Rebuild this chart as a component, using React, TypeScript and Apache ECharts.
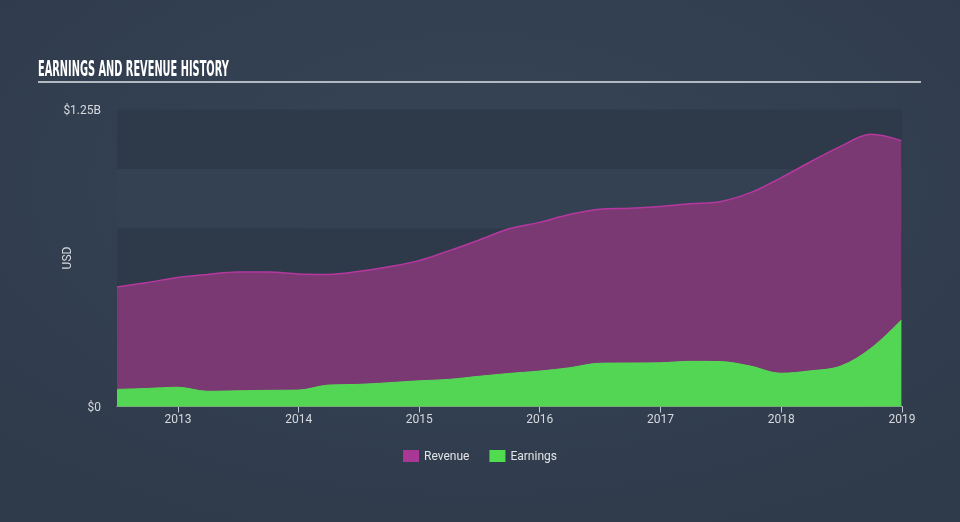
import React, { useEffect, useRef } from "react";
import * as echarts from "echarts";

const dates = [
  "2012-06-30", "2012-09-30", "2012-12-31", "2013-03-31", "2013-06-30", "2013-09-30", "2013-12-31",
  "2014-03-31", "2014-06-30", "2014-09-30", "2014-12-31", "2015-03-31", "2015-06-30", "2015-09-30",
  "2015-12-31", "2016-03-31", "2016-06-30", "2016-09-30", "2016-12-31", "2017-03-31", "2017-06-30",
  "2017-09-30", "2017-12-31", "2018-03-31", "2018-06-30", "2018-09-30", "2018-12-31",
];

// billions USD
const revenue = [
  0.503, 0.522, 0.543, 0.556, 0.566, 0.566, 0.558,
  0.556, 0.568, 0.588, 0.614, 0.655, 0.700, 0.748,
  0.775, 0.808, 0.830, 0.834, 0.842, 0.853, 0.862,
  0.900, 0.962, 1.030, 1.095, 1.146, 1.119,
];

const earnings = [
  0.072, 0.076, 0.081, 0.064, 0.066, 0.068, 0.069,
  0.090, 0.093, 0.100, 0.108, 0.114, 0.127, 0.139,
  0.149, 0.163, 0.182, 0.183, 0.184, 0.190, 0.189,
  0.170, 0.140, 0.150, 0.170, 0.245, 0.364,
];

const yTickLabels: Record<string, string> = { "0": "$0", "1250000000": "$1.25B" };
const seriesNames = ["Revenue", "Earnings"];
const titleText = "EARNINGS AND REVENUE HISTORY";

export default function App() {
  const ref = useRef<HTMLDivElement>(null);

  useEffect(() => {
    if (!ref.current) return;
    const chart = echarts.init(ref.current, null, { renderer: "svg" });

    const titleFont = 'bold 21px "Liberation Sans Narrow", "DejaVu Sans Condensed", sans-serif';
    let scaleX = 0.62;
    try {
      const c = document.createElement("canvas").getContext("2d");
      if (c) {
        c.font = titleFont;
        const w = c.measureText(titleText).width;
        if (w > 0) scaleX = 191 / w;
      }
    } catch (e) {}

    const toPairs = (vals: number[]) => dates.map((d, i) => [d, vals[i] * 1e9]);

    const option: any = {
      animation: false,
      backgroundColor: {
        type: "radial",
        x: 0.5,
        y: 0.35,
        r: 0.75,
        colorStops: [
          { offset: 0, color: "#364557" },
          { offset: 1, color: "#2f3a4a" },
        ],
      },
      graphic: [
        {
          type: "text",
          x: 38,
          y: 58,
          scaleX: scaleX,
          style: {
            text: titleText,
            font: titleFont,
            fill: "#ffffff",
          },
        },
        {
          type: "line",
          shape: { x1: 38, y1: 82, x2: 921, y2: 82 },
          style: { stroke: "#b3b9c1", lineWidth: 2 },
        },
      ],
      grid: { left: 117, right: 58, top: 109.5, bottom: 115.5 },
      legend: {
        bottom: 55,
        left: "center",
        icon: "rect",
        itemWidth: 16,
        itemHeight: 12,
        itemGap: 20,
        textStyle: { color: "#e2e4e8", fontSize: 12, fontFamily: "Roboto" },
        data: [
          { name: seriesNames[0], itemStyle: { color: "#a93796" } },
          { name: seriesNames[1], itemStyle: { color: "#4fdc4f" } },
        ],
      },
      xAxis: {
        type: "time",
        min: "2012-06-30",
        max: "2019-01-02",
        minInterval: 365 * 24 * 3600 * 1000,
        maxInterval: 366 * 24 * 3600 * 1000,
        axisLine: { show: true, lineStyle: { color: "#c3c9d0", width: 1 } },
        axisTick: { show: true, length: 6, lineStyle: { color: "#c3c9d0" } },
        axisLabel: {
          color: "#d6d9de",
          fontSize: 12,
          fontFamily: "Roboto",
          margin: 6,
          formatter: "{yyyy}",
          showMinLabel: false,
          showMaxLabel: true,
        },
        splitLine: { show: false },
      },
      yAxis: {
        type: "value",
        min: 0,
        max: 1.25e9,
        interval: 0.25e9,
        name: "USD",
        nameLocation: "middle",
        nameGap: 44,
        nameMoveOverlap: false,
        nameRotate: 90,
        nameTextStyle: { color: "#d6d9de", fontSize: 12, fontFamily: "Roboto" },
        axisLine: { show: false },
        axisTick: { show: false },
        splitLine: { show: false },
        splitArea: { show: true, areaStyle: { color: ["#2e3a4a", "#334152"] } },
        axisLabel: {
          color: "#d6d9de",
          fontSize: 12,
          fontFamily: "Roboto",
          margin: 16,
          formatter: (v: number) => yTickLabels[String(Math.round(v))] ?? "",
        },
      },
      series: [
        {
          name: seriesNames[0],
          type: "line",
          data: toPairs(revenue),
          smooth: 0.35,
          showSymbol: false,
          symbol: "none",
          itemStyle: { color: "#a93796" },
          lineStyle: { color: "#b5389f", width: 1.5 },
          areaStyle: { color: "#7a3973", opacity: 1 },
          z: 2,
        },
        {
          name: seriesNames[1],
          type: "line",
          data: toPairs(earnings),
          smooth: 0.35,
          showSymbol: false,
          symbol: "none",
          itemStyle: { color: "#4fdc4f" },
          lineStyle: { color: "#55da55", width: 1 },
          areaStyle: { color: "#52d654", opacity: 1 },
          z: 3,
        },
      ],
    };

    chart.setOption(option);
    return () => chart.dispose();
  }, []);

  return <div ref={ref} style={{ width: 960, height: 522, position: "fixed", left: 0, top: 0 }} />;
}
